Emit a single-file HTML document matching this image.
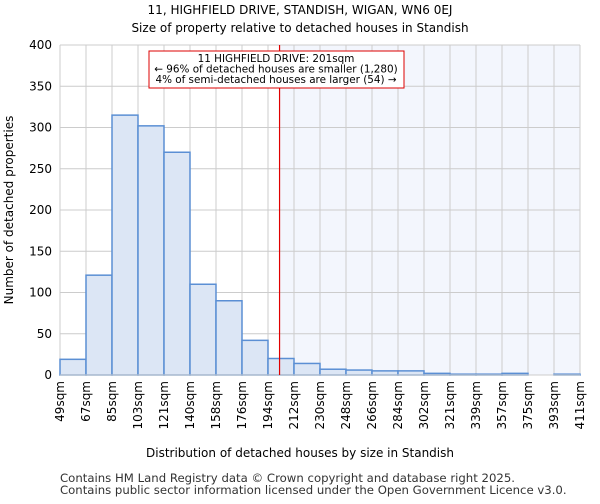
<!DOCTYPE html>
<html><head><meta charset="utf-8"><style>
body{margin:0;background:#fff;font-family:"DejaVu Sans","Liberation Sans",sans-serif}
</style></head><body>
<svg width="600" height="500" id="c" font-family="DejaVu Sans, Liberation Sans, sans-serif">
<text x="300" y="14" text-anchor="middle" font-size="12">11, HIGHFIELD DRIVE, STANDISH, WIGAN, WN6 0EJ</text>
<text x="300" y="32" text-anchor="middle" font-size="12">Size of property relative to detached houses in Standish</text>
<text x="300" y="457" text-anchor="middle" font-size="12">Distribution of detached houses by size in Standish</text>
<text transform="translate(13,210) rotate(-90)" text-anchor="middle" font-size="12">Number of detached properties</text>
<text x="60" y="482" font-size="11.7" fill="#333" textLength="455">Contains HM Land Registry data © Crown copyright and database right 2025.</text>
<text x="60" y="494" font-size="11.7" fill="#333">Contains public sector information licensed under the Open Government Licence v3.0.</text>
<g id="g"></g>
</svg>
<script>
const labels=["49sqm","67sqm","85sqm","103sqm","121sqm","140sqm","158sqm","176sqm","194sqm","212sqm","230sqm","248sqm","266sqm","284sqm","302sqm","321sqm","339sqm","357sqm","375sqm","393sqm","411sqm"];
const counts=[19,121,315,302,270,110,90,42,20,14,7,6,5,5,2,1,1,2,0,1];
const yTicks=[0,50,100,150,200,250,300,350,400];
const propSize=201;
const edgeStart=49, binW=18;
const L=60,R=580,T=45,B=375,yMax=400;
const bw=(R-L)/counts.length;
const ys=v=>B-v/yMax*(B-T);
const xs=s=>L+(s-edgeStart)/binW*bw;
const g=document.getElementById('g');
const NS='http://www.w3.org/2000/svg';
function mk(t,a,txt){const e=document.createElementNS(NS,t);for(const k in a)e.setAttribute(k,a[k]);if(txt!=null)e.textContent=txt;g.appendChild(e);return e;}
const px=xs(propSize);
let e=mk('rect',{x:px,y:T,width:R-px,height:B-T,fill:'#f3f6fd'});


yTicks.forEach(v=>{
 let l=mk('line',{x1:L,x2:R,y1:ys(v),y2:ys(v),stroke:'#ccc'});
 
 
 let t=mk('text',{x:L-8,y:ys(v)+4,'text-anchor':'end','font-size':'12'},v);
 
 
});
labels.forEach((s,i)=>{
 const x=L+i*bw;
 let l=mk('line',{x1:x,x2:x,y1:T,y2:B,stroke:'#ccc'});
 
 
 let t=mk('text',{transform:`translate(${x+4},${B+6}) rotate(-90)`,'text-anchor':'end','font-size':'12'},s);
 
 
});
counts.forEach((v,i)=>{
 const x=L+i*bw;
 let r=mk('rect',{x:x,y:ys(v),width:bw,height:B-ys(v),fill:'#dce6f5',stroke:'#5b8fd4','stroke-width':1.5});
 
 
});
e=mk('line',{x1:L,x2:R,y1:B,y2:B,stroke:'#ccc'});


e=mk('line',{x1:px,x2:px,y1:T,y2:B,stroke:'#e00000','stroke-width':1.2});


e=mk('rect',{x:149,y:51,width:255,height:37,fill:'#fff',stroke:'#d00','stroke-width':1});


const ann=["11 HIGHFIELD DRIVE: 201sqm","← 96% of detached houses are smaller (1,280)","4% of semi-detached houses are larger (54) →"];
ann.forEach((s,i)=>{
 let t=mk('text',{x:276,y:62+i*10.5,'text-anchor':'middle','font-size':'10.4'},s);
 
 
});
</script>
</body></html>
